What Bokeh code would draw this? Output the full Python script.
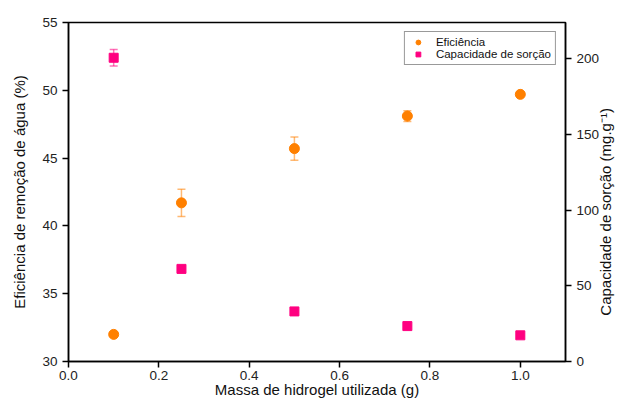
import math
from bokeh.plotting import figure
from bokeh.models import (LinearAxis, Range1d, Whisker, ColumnDataSource, Legend,
                          LegendItem, TeeHead)
from bokeh.embed import file_html
from bokeh.resources import INLINE

# ---- data ----
massa = [0.1, 0.25, 0.5, 0.75, 1.0]
eficiencia = [32.0, 41.7, 45.7, 48.1, 49.7]
eficiencia_err = [0.1, 1.0, 0.86, 0.4, 0.1]
capacidade = [200.7, 61.2, 33.1, 23.4, 17.3]
capacidade_err = [5.5, 1.5, 0.8, 0.5, 0.4]

x_ticks = [0.0, 0.2, 0.4, 0.6, 0.8, 1.0]
y_ticks = [30, 35, 40, 45, 50, 55]
y2_ticks = [0, 50, 100, 150, 200]

ORANGE = "#FF8000"
PINK = "#FF0080"
FONT = "Liberation Sans"

src = ColumnDataSource(dict(
    x=massa,
    ef=eficiencia,
    ef_lo=[v - e for v, e in zip(eficiencia, eficiencia_err)],
    ef_hi=[v + e for v, e in zip(eficiencia, eficiencia_err)],
    cap=capacidade,
    cap_lo=[v - e for v, e in zip(capacidade, capacidade_err)],
    cap_hi=[v + e for v, e in zip(capacidade, capacidade_err)],
))

xr = Range1d(0, 1.1)
cap_range = Range1d(0, 224)
p = figure(width=625, height=400, x_range=xr, y_range=Range1d(30, 55),
           output_backend="svg", toolbar_location=None,
           min_border_left=68, min_border_right=51, min_border_top=22, min_border_bottom=38)
p.extra_y_ranges = {"cap": cap_range}
p.grid.visible = False
p.outline_line_color = "black"
p.outline_line_width = 1.5
p.background_fill_color = "white"
p.border_fill_color = "white"


def style_axis(ax, ticks, title, label_standoff, tick_standoff=5):
    ax.ticker = ticks
    ax.ticker.num_minor_ticks = 2
    ax.axis_label = title
    ax.axis_label_text_font = FONT
    ax.axis_label_text_font_size = "15px"
    ax.axis_label_text_font_style = "normal"
    ax.axis_label_text_color = "#111111"
    ax.axis_label_standoff = label_standoff
    ax.major_label_text_font = FONT
    ax.major_label_text_font_size = "13.5px"
    ax.major_label_text_color = "#222222"
    ax.major_label_standoff = tick_standoff
    ax.axis_line_color = "black"
    ax.axis_line_width = 1.5
    ax.major_tick_line_color = "black"
    ax.minor_tick_line_color = "black"
    ax.major_tick_line_width = 1.5
    ax.minor_tick_line_width = 1.2
    ax.major_tick_in = 0
    ax.major_tick_out = 6
    ax.minor_tick_in = 0
    ax.minor_tick_out = 3


style_axis(p.xaxis[0], x_ticks, "Massa de hidrogel utilizada (g)", -2, 3)
p.xaxis[0].major_label_overrides = {t: f"{t:.1f}" for t in x_ticks}
style_axis(p.yaxis[0], y_ticks, "Eficiência de remoção de água (%)", 11)

ax2 = LinearAxis(y_range_name="cap")
RIGHT_TITLE = "Capacidade de sorção (mg.g⁻¹)"
style_axis(ax2, y2_ticks, RIGHT_TITLE, 3)
# read bottom-to-top like the reference: rotate the label, anchor it at the
# bottom of the axis and pad it so that it sits centred along the axis
ax2.axis_label_orientation = math.pi / 2
if "axis_label_align" in ax2.properties():
    ax2.axis_label_align = "start"
    ax2.axis_label = "\u00a0" * 11 + RIGHT_TITLE
p.add_layout(ax2, "right")

# error bars
w1 = Whisker(source=src, base="x", lower="ef_lo", upper="ef_hi",
             line_color=ORANGE, line_alpha=0.55, line_width=1.5,
             lower_head=TeeHead(size=8, line_color=ORANGE, line_alpha=0.55, line_width=1.5),
             upper_head=TeeHead(size=8, line_color=ORANGE, line_alpha=0.55, line_width=1.5))
w2 = Whisker(source=src, base="x", lower="cap_lo", upper="cap_hi", y_range_name="cap",
             line_color=PINK, line_alpha=0.55, line_width=1.5,
             lower_head=TeeHead(size=8, line_color=PINK, line_alpha=0.55, line_width=1.5),
             upper_head=TeeHead(size=8, line_color=PINK, line_alpha=0.55, line_width=1.5))
p.add_layout(w1)
p.add_layout(w2)

r1 = p.scatter("x", "ef", source=src, marker="circle", size=10,
               fill_color=ORANGE, line_color=ORANGE)
r2 = p.scatter("x", "cap", source=src, marker="square", size=9, y_range_name="cap",
               fill_color=PINK, line_color=PINK)

legend = Legend(items=[LegendItem(label="Eficiência", renderers=[r1]),
                       LegendItem(label="Capacidade de sorção", renderers=[r2])],
                location="top_right", margin=9, padding=4, spacing=0,
                glyph_width=18, glyph_height=12, label_height=11, label_standoff=9,
                label_text_font=FONT, label_text_font_size="11.5px",
                label_text_color="#111111",
                border_line_color="#333333", border_line_width=1,
                background_fill_alpha=1)
p.add_layout(legend, "center")

open("out.html", "w").write(file_html(p, INLINE))
